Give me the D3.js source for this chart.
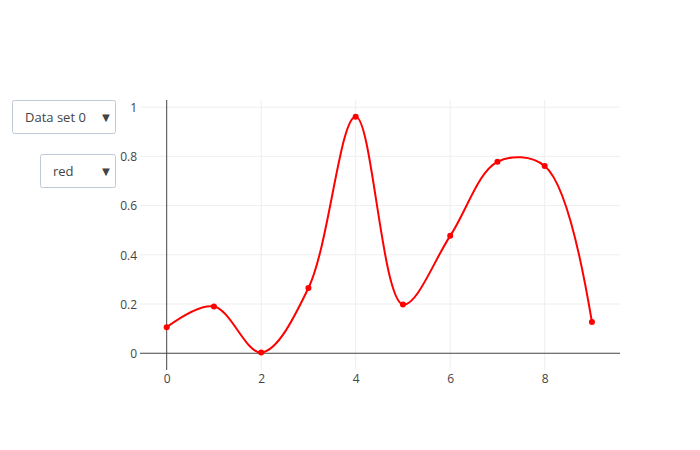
<!DOCTYPE html>
<html>
<head>
<meta charset="utf-8">
<script src="https://cdn.jsdelivr.net/npm/d3@7"></script>
<style>
  html, body { margin: 0; padding: 0; background: #fff; }
  svg { display: block; }
  text { font-family: "Open Sans", verdana, arial, sans-serif; }
</style>
</head>
<body>
<div id="chart"></div>
<script>
// ---- data ----
const xValues = [0, 1, 2, 3, 4, 5, 6, 7, 8, 9];
const yValues = [0.106, 0.19, 0.003, 0.265, 0.961, 0.198, 0.477, 0.778, 0.761, 0.127];
const xTickValues = [0, 2, 4, 6, 8];
const yTickValues = [0, 0.2, 0.4, 0.6, 0.8, 1];
const menuLabels = ["Data set 0", "red"];
const lineColor = "red";

// ---- layout ----
const W = 700, H = 450;
const plot = { left: 140, right: 620, top: 100, bottom: 370 };

const svg = d3.select("#chart").append("svg").attr("width", W).attr("height", H);

const x = d3.scaleLinear().domain([-0.565, 9.594]).range([plot.left, plot.right]);
const y = d3.scaleLinear().domain([-0.068, 1.029]).range([plot.bottom, plot.top]);

// gridlines
const grid = svg.append("g");
grid.selectAll("line.gx").data(xTickValues.filter(d => d !== 0)).enter().append("line")
  .attr("x1", d => x(d)).attr("x2", d => x(d))
  .attr("y1", plot.top).attr("y2", plot.bottom)
  .attr("stroke", "#eee").attr("stroke-width", 1);
grid.selectAll("line.gy").data(yTickValues.filter(d => d !== 0)).enter().append("line")
  .attr("y1", d => y(d)).attr("y2", d => y(d))
  .attr("x1", plot.left).attr("x2", plot.right)
  .attr("stroke", "#eee").attr("stroke-width", 1);

// zero lines
svg.append("line").attr("x1", x(0)).attr("x2", x(0)).attr("y1", plot.top).attr("y2", plot.bottom)
  .attr("stroke", "#444").attr("stroke-width", 1);
svg.append("line").attr("x1", plot.left).attr("x2", plot.right).attr("y1", y(0)).attr("y2", y(0))
  .attr("stroke", "#444").attr("stroke-width", 1);

// axes via d3 axis generators (styled like plotly)
const xAxis = d3.axisBottom(x).tickValues(xTickValues).tickSize(0).tickPadding(0).tickFormat(d3.format("d"));
const gx = svg.append("g").attr("transform", `translate(0,${plot.bottom})`).call(xAxis);
gx.select(".domain").remove();
gx.selectAll("text").attr("y", 12.5).attr("dy", 0)
  .attr("font-size", 12).attr("fill", "#444").attr("font-family", '"Open Sans", verdana, arial, sans-serif');

const yAxis = d3.axisLeft(y).tickValues(yTickValues).tickSize(0).tickPadding(0)
  .tickFormat(d => d === 0 ? "0" : d === 1 ? "1" : d3.format(".1f")(d));
const gy = svg.append("g").attr("transform", `translate(${plot.left - 3},0)`).call(yAxis);
gy.select(".domain").remove();
gy.selectAll("text").attr("x", 0).attr("dy", "0.35em")
  .attr("font-size", 12).attr("fill", "#444").attr("font-family", '"Open Sans", verdana, arial, sans-serif');

// plotly-like spline smoothing (centripetal catmull-rom with quadratic ends)
function makeTangent(p0, p1, p2, s) {
  const d1x = p0[0] - p1[0], d1y = p0[1] - p1[1];
  const d2x = p2[0] - p1[0], d2y = p2[1] - p1[1];
  const d1a = Math.pow(d1x * d1x + d1y * d1y, 0.25);
  const d2a = Math.pow(d2x * d2x + d2y * d2y, 0.25);
  const numx = (d2a * d2a * d1x - d1a * d1a * d2x) * s;
  const numy = (d2a * d2a * d1y - d1a * d1a * d2y) * s;
  const den1 = 3 * d2a * (d1a + d2a), den2 = 3 * d1a * (d1a + d2a);
  return [
    [p1[0] + (den1 && numx / den1), p1[1] + (den1 && numy / den1)],
    [p1[0] - (den2 && numx / den2), p1[1] - (den2 && numy / den2)]
  ];
}
function smoothOpen(pts, s) {
  const path = d3.path();
  path.moveTo(pts[0][0], pts[0][1]);
  const t = [];
  for (let i = 1; i < pts.length - 1; i++) t.push(makeTangent(pts[i - 1], pts[i], pts[i + 1], s));
  path.quadraticCurveTo(t[0][0][0], t[0][0][1], pts[1][0], pts[1][1]);
  for (let i = 2; i < pts.length - 1; i++) {
    path.bezierCurveTo(t[i - 2][1][0], t[i - 2][1][1], t[i - 1][0][0], t[i - 1][0][1], pts[i][0], pts[i][1]);
  }
  const last = t[pts.length - 3][1];
  path.quadraticCurveTo(last[0], last[1], pts[pts.length - 1][0], pts[pts.length - 1][1]);
  return path.toString();
}

const pts = xValues.map((d, i) => [x(d), y(yValues[i])]);
svg.append("path").attr("d", smoothOpen(pts, 1))
  .attr("fill", "none").attr("stroke", lineColor).attr("stroke-width", 2);

svg.selectAll("circle.pt").data(xValues).enter().append("circle")
  .attr("cx", d => x(d)).attr("cy", (d, i) => y(yValues[i])).attr("r", 3)
  .attr("fill", lineColor);

// dropdown menus
const menus = [
  { label: menuLabels[0], x: 12.5, y: 100.5, w: 103, h: 33 },
  { label: menuLabels[1], x: 40.5, y: 154.5, w: 75, h: 33 }
];
const mg = svg.selectAll("g.menu").data(menus).enter().append("g")
  .attr("transform", d => `translate(${d.x},${d.y})`);
mg.append("rect").attr("width", d => d.w).attr("height", d => d.h).attr("rx", 2).attr("ry", 2)
  .attr("fill", "#fff").attr("stroke", "#BEC8D9").attr("stroke-width", 1);
mg.append("text").attr("x", 12.5).attr("y", d => d.h / 2).attr("dy", "0.35em")
  .attr("font-size", 13).attr("fill", "#444").text(d => d.label);
mg.append("text").attr("x", d => d.w - 9.5).attr("y", d => d.h / 2).attr("dy", "0.35em")
  .attr("text-anchor", "middle").attr("font-size", 13).attr("fill", "#444").text("▼");
</script>
</body>
</html>
